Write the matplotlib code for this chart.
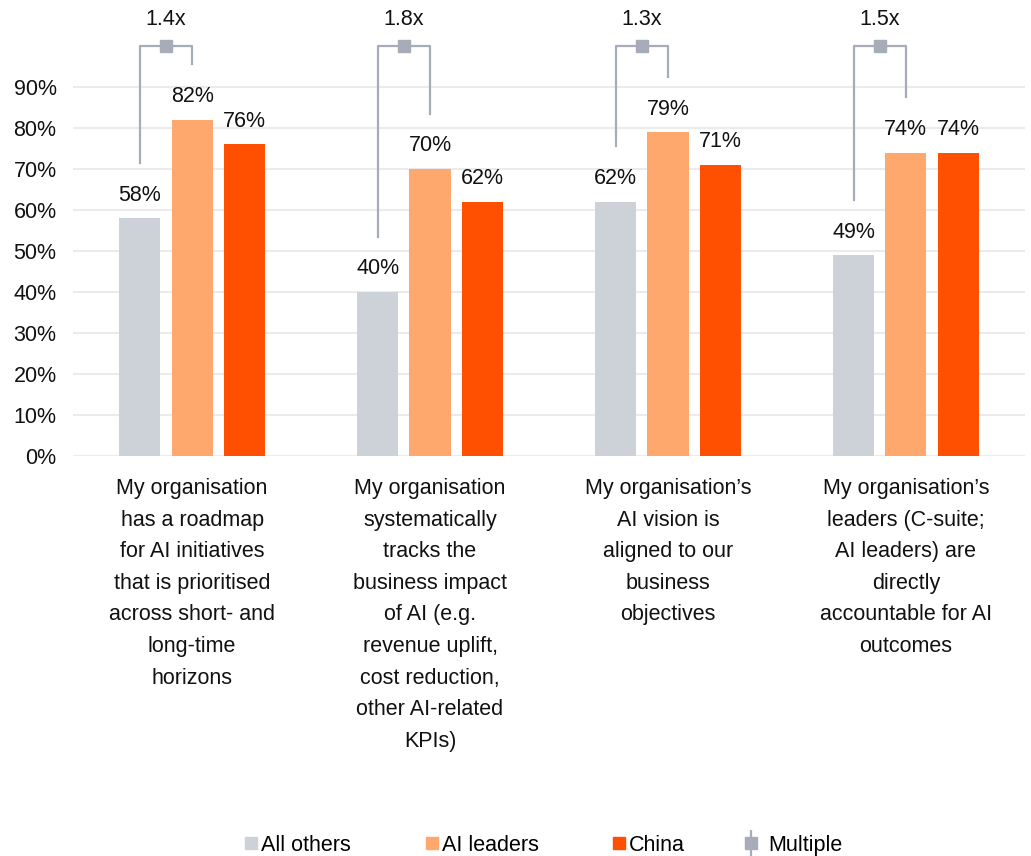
import numpy as np
import matplotlib.pyplot as plt
from matplotlib.lines import Line2D
from matplotlib.legend_handler import HandlerTuple

plt.rcParams['font.family'] = ['Liberation Sans', 'DejaVu Sans']

categories = [
    "My organisation\nhas a roadmap\nfor AI initiatives\nthat is prioritised\nacross short- and\nlong-time\nhorizons",
    "My organisation\nsystematically\ntracks the\nbusiness impact\nof AI (e.g.\nrevenue uplift,\ncost reduction,\nother AI-related\nKPIs)",
    "My organisation\u2019s\nAI vision is\naligned to our\nbusiness\nobjectives",
    "My organisation\u2019s\nleaders (C-suite;\nAI leaders) are\ndirectly\naccountable for AI\noutcomes",
]
all_others = [58, 40, 62, 49]
ai_leaders = [82, 70, 79, 74]
china = [76, 62, 71, 74]
multiples = ["1.4x", "1.8x", "1.3x", "1.5x"]

series = [("All others", all_others, "#CDD2D9"),
          ("AI leaders", ai_leaders, "#FEA86E"),
          ("China", china, "#FE5000")]
bracket_col = "#A6ACB8"
fs = 15.5

fig = plt.figure(figsize=(10.31, 8.56), dpi=100)
ax = fig.add_axes([0.071, 0.4673, 0.923, 0.479])

x = np.arange(len(categories))
w = 0.173
step = 0.22
for i, (name, vals, col) in enumerate(series):
    pos = x + (i - 1) * step
    ax.bar(pos, vals, width=w, color=col, zorder=3, label=name)
    for p, v in zip(pos, vals):
        ax.annotate(f"{v}%", (p, v), xytext=(0, 9), textcoords="offset points",
                    ha="center", va="bottom", fontsize=fs, color="#111111")

# brackets between All others and AI leaders
top = 100
for xi, lo, hi, lab in zip(x, all_others, ai_leaders, multiples):
    xl, xr = xi - step, xi
    ax.plot([xl, xl, xr, xr], [lo + 13.5, top, top, hi + 13.5],
            color=bracket_col, lw=1.6, clip_on=False, zorder=4)
    ax.plot([(xl + xr) / 2], [top], marker="s", ms=9, color=bracket_col,
            clip_on=False, zorder=5)
    ax.text((xl + xr) / 2, top + 4, lab, ha="center", va="bottom",
            fontsize=fs, color="#111111")

ax.set_xlim(-0.5, 3.5)
ax.set_ylim(0, 100)
ax.set_yticks(np.arange(0, 91, 10))
ax.set_yticklabels([f"{t}%" for t in range(0, 91, 10)], fontsize=fs)
ax.set_xticks(x)
ax.set_xticklabels(categories, fontsize=fs, linespacing=1.66, va="top")
ax.tick_params(axis="x", length=0, pad=16)
ax.tick_params(axis="y", length=0, pad=12)
ax.grid(axis="y", color="#EBEBEB", lw=1.5, zorder=0)
for s in ax.spines.values():
    s.set_visible(False)
for t in ax.get_yticklabels() + ax.get_xticklabels():
    t.set_color("#111111")

# legend entries placed one by one along the bottom
handles = [Line2D([], [], ls="none", marker="s", ms=8, color=c) for _, _, c in series]
handles.append((Line2D([], [], ls="none", marker="|", ms=19, mew=1.6, color=bracket_col),
                Line2D([], [], ls="none", marker="s", ms=8.5, color=bracket_col)))
labels = [s[0] for s in series] + ["Multiple"]
lx = [245, 426, 613, 745]
pads = [0.2, 0.2, 0.2, 0.55]
for h, lab, px, tp in zip(handles, labels, lx, pads):
    fig.legend([h], [lab], loc="center left", bbox_to_anchor=(px / 1031, 0.0128),
               frameon=False, fontsize=fs, handlelength=0.55, handletextpad=tp,
               borderpad=0, borderaxespad=0,
               handler_map={tuple: HandlerTuple(ndivide=1)})

fig.savefig("out.png", dpi=100)
